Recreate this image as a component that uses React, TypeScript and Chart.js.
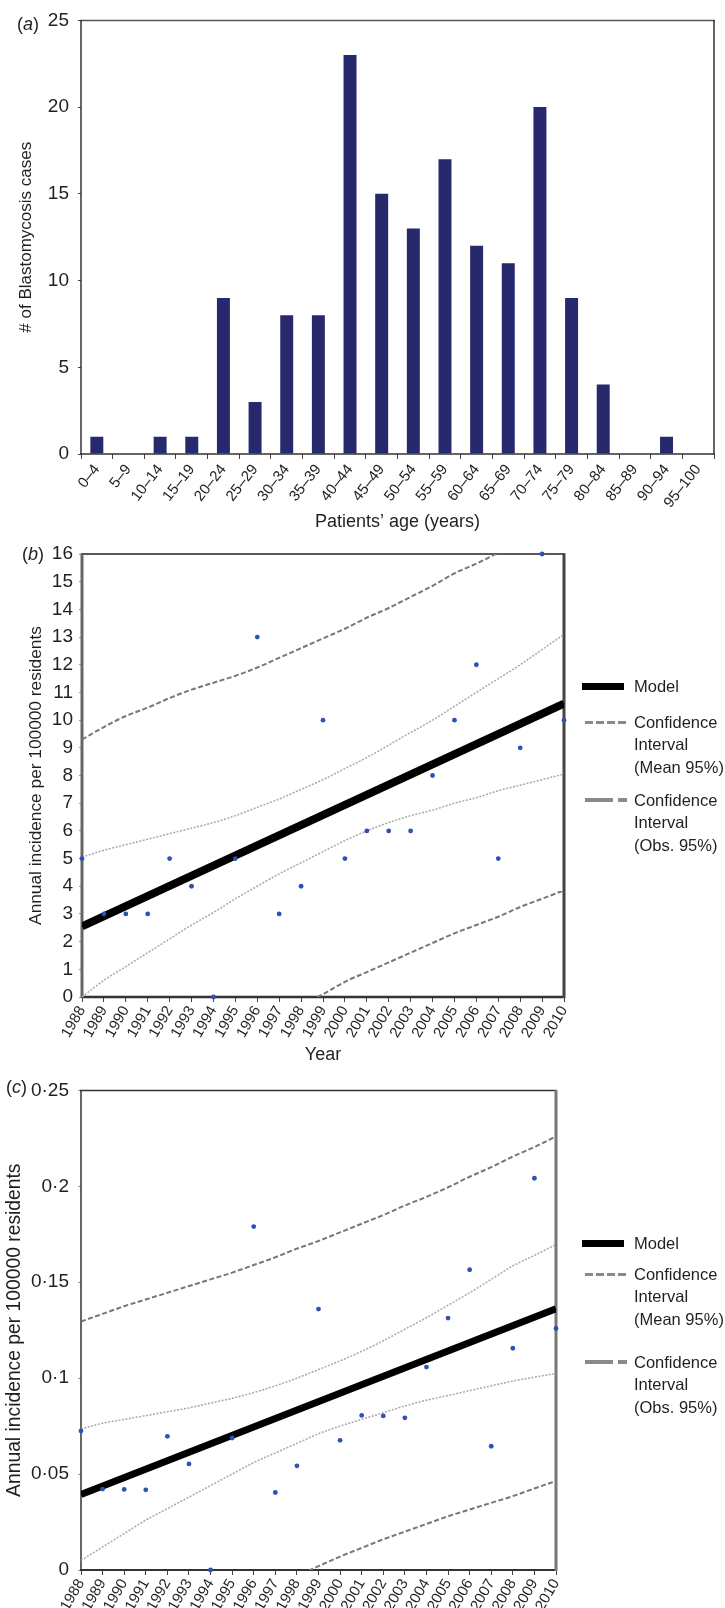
import React, { useEffect, useRef } from 'react';
import { Chart, registerables } from 'chart.js';

Chart.register(...registerables);

const FONT = '"Liberation Sans", Arial, Helvetica, sans-serif';
const NARROW = '"Liberation Sans Narrow", "Arial Narrow", "Liberation Sans", Arial, sans-serif';
const TEXT = '#231f20';

// ---------- Panel (a) ----------
const ageGroups = ['0–4', '5–9', '10–14', '15–19', '20–24', '25–29', '30–34', '35–39', '40–44', '45–49', '50–54', '55–59', '60–64', '65–69', '70–74', '75–79', '80–84', '85–89', '90–94', '95–100'];
const caseCounts = [1, 0, 1, 1, 9, 3, 8, 8, 23, 15, 13, 17, 12, 11, 20, 9, 4, 0, 1, 0];

// ---------- Panels (b) and (c) ----------
const years = [1988, 1989, 1990, 1991, 1992, 1993, 1994, 1995, 1996, 1997, 1998, 1999, 2000, 2001, 2002, 2003, 2004, 2005, 2006, 2007, 2008, 2009, 2010];
const modelYears = [1988, 2010];

const incidenceB = [5, 3, 3, 3, 5, 4, 0, 5, 13, 3, 4, 10, 5, 6, 6, 6, 8, 10, 12, 5, 9, 16, 10];
const modelB = [2.55, 10.6];
const meanUpperB = [5.05, 5.3, 5.5, 5.7, 5.9, 6.1, 6.3, 6.55, 6.85, 7.15, 7.5, 7.85, 8.25, 8.65, 9.1, 9.55, 10.0, 10.5, 11.0, 11.5, 12.0, 12.55, 13.1];
const meanLowerB = [0.0, 0.6, 1.1, 1.6, 2.1, 2.6, 3.05, 3.55, 4.0, 4.45, 4.85, 5.25, 5.65, 6.0, 6.3, 6.55, 6.75, 7.0, 7.2, 7.45, 7.65, 7.85, 8.05];
const obsUpperB = [9.3, 9.75, 10.15, 10.45, 10.8, 11.1, 11.35, 11.6, 11.9, 12.25, 12.6, 12.95, 13.3, 13.7, 14.05, 14.45, 14.85, 15.3, 15.65, 16.05, 16.5, 16.9, 17.35];
const obsLowerB = [-4.2, -3.8, -3.4, -3.05, -2.7, -2.4, -2.05, -1.65, -1.2, -0.75, -0.3, 0.1, 0.55, 0.9, 1.25, 1.6, 1.95, 2.3, 2.6, 2.9, 3.25, 3.55, 3.85];

const incidenceC = [0.0725, 0.0422, 0.042, 0.0418, 0.0697, 0.0553, 0, 0.0688, 0.179, 0.0404, 0.0543, 0.136, 0.0676, 0.0806, 0.0803, 0.0793, 0.1058, 0.1313, 0.1565, 0.0645, 0.1156, 0.2042, 0.1259];
const modelC = [0.0393, 0.1362];
const meanUpperC = [0.0735, 0.0765, 0.0785, 0.0805, 0.0825, 0.0845, 0.087, 0.0895, 0.0925, 0.096, 0.1, 0.1045, 0.109, 0.114, 0.1195, 0.1255, 0.1315, 0.138, 0.1445, 0.1515, 0.1585, 0.164, 0.1697];
const meanLowerC = [0.005, 0.012, 0.019, 0.026, 0.032, 0.038, 0.044, 0.05, 0.056, 0.061, 0.066, 0.071, 0.075, 0.0785, 0.082, 0.0855, 0.0885, 0.091, 0.0935, 0.096, 0.0985, 0.1005, 0.1025];
const obsUpperC = [0.1295, 0.1335, 0.1375, 0.141, 0.1445, 0.148, 0.1515, 0.155, 0.159, 0.163, 0.1675, 0.1715, 0.176, 0.1805, 0.185, 0.19, 0.1945, 0.1995, 0.205, 0.21, 0.2155, 0.2205, 0.226];
const obsLowerC = [-0.051, -0.046, -0.041, -0.036, -0.031, -0.026, -0.0215, -0.017, -0.0125, -0.0075, -0.003, 0.002, 0.007, 0.0115, 0.016, 0.02, 0.024, 0.028, 0.0315, 0.035, 0.0385, 0.0425, 0.0464];

const legendLabels = {
  model: 'Model',
  mean: ['Confidence', 'Interval', '(Mean 95%)'],
  obs: ['Confidence', 'Interval', '(Obs. 95%)'],
};

const pts = (xs: number[], ys: number[]) => xs.map((x, i) => ({ x, y: ys[i] }));

const framePlugin = {
  id: 'frame',
  beforeDatasetsDraw(chart: any, _args: any, opts: any) {
    const { ctx, chartArea } = chart;
    const { left, right, top, bottom } = chartArea;
    ctx.save();
    const line = (w: number, c: string, x1: number, y1: number, x2: number, y2: number) => {
      ctx.lineWidth = w;
      ctx.strokeStyle = c;
      ctx.beginPath();
      ctx.moveTo(x1, y1);
      ctx.lineTo(x2, y2);
      ctx.stroke();
    };
    line(opts.top[0], opts.top[1], left - 1, top, right + 1, top);
    line(opts.bottom[0], opts.bottom[1], left - 1, bottom, right + 1, bottom);
    line(opts.left[0], opts.left[1], left, top - 0.5, left, bottom + 1);
    line(opts.right[0], opts.right[1], right, top - 0.5, right, bottom + 1);
    ctx.restore();
  },
};

function ChartCanvas({ config, left, top, width, height }: any) {
  const ref = useRef<HTMLCanvasElement | null>(null);
  useEffect(() => {
    if (!ref.current) return;
    const chart = new Chart(ref.current, config);
    return () => chart.destroy();
  }, []);
  return (
    <canvas
      ref={ref}
      width={width}
      height={height}
      style={{ position: 'absolute', left, top, width, height, display: 'block' }}
    />
  );
}

const commonPlugins = {
  legend: { display: false },
  tooltip: { enabled: false },
};

const configA: any = {
  type: 'bar',
  data: {
    labels: ageGroups,
    datasets: [
      {
        data: caseCounts,
        backgroundColor: '#27296d',
        barPercentage: 0.41,
        categoryPercentage: 1,
      },
    ],
  },
  options: {
    responsive: false,
    animation: false,
    events: [],
    devicePixelRatio: 1,
    layout: { padding: { left: 0, right: 11, top: 19, bottom: 0 } },
    plugins: {
      ...commonPlugins,
      frame: { top: [1.5, '#555'], bottom: [1.5, '#333'], left: [1.5, '#333'], right: [1.5, '#333'] },
    },
    scales: {
      x: {
        afterFit: (s: any) => { s.height = 86; },
        ticks: { autoSkip: false, maxRotation: 52, minRotation: 52, padding: 2, color: TEXT, font: { family: NARROW, size: 15 } },
        grid: { drawOnChartArea: false, drawTicks: true, tickLength: 5, color: '#444', offset: true },
        border: { display: false },
        title: { display: true, text: 'Patients’ age (years)', color: TEXT, font: { family: NARROW, size: 18 }, padding: { top: 0, bottom: 7 } },
      },
      y: {
        min: 0,
        max: 25,
        afterFit: (s: any) => { s.width = 81; },
        ticks: { stepSize: 5, padding: 9, color: TEXT, font: { family: NARROW, size: 19 } },
        grid: { drawOnChartArea: false, drawTicks: true, tickLength: 3, color: '#444' },
        border: { display: false },
        title: { display: true, text: '# of Blastomycosis cases', color: TEXT, font: { family: FONT, size: 17 }, padding: { top: 16, bottom: 0 } },
      },
    },
  },
  plugins: [framePlugin],
};

function lineConfig(p: any): any {
  return {
    type: 'line',
    data: {
      datasets: [
        {
          data: pts(years, p.points),
          showLine: false,
          pointRadius: 2.4,
          pointBackgroundColor: '#2f50b4',
          pointBorderWidth: 0,
          clip: false,
        },
        {
          data: pts(modelYears, p.model),
          borderColor: '#000',
          borderWidth: p.modelWidth,
          pointRadius: 0,
        },
        {
          data: pts(years, p.meanUpper),
          borderColor: '#a8a8a8',
          borderWidth: 1.5,
          borderDash: [2, 1.5],
          pointRadius: 0,
          cubicInterpolationMode: 'monotone',
        },
        {
          data: pts(years, p.meanLower),
          borderColor: '#a8a8a8',
          borderWidth: 1.5,
          borderDash: [2, 1.5],
          pointRadius: 0,
          cubicInterpolationMode: 'monotone',
        },
        {
          data: pts(years, p.obsUpper),
          borderColor: '#777',
          borderWidth: 2,
          borderDash: [5, 2.5],
          pointRadius: 0,
          cubicInterpolationMode: 'monotone',
        },
        {
          data: pts(years, p.obsLower),
          borderColor: '#777',
          borderWidth: 2,
          borderDash: [5, 2.5],
          pointRadius: 0,
          cubicInterpolationMode: 'monotone',
        },
      ],
    },
    options: {
      responsive: false,
      animation: false,
      events: [],
      devicePixelRatio: 1,
      layout: { padding: p.padding },
      plugins: { ...commonPlugins, frame: p.frame },
      scales: {
        x: {
          type: 'linear',
          min: 1988,
          max: 2010,
          afterFit: (s: any) => { s.height = p.xHeight; },
          ticks: {
            stepSize: 1,
            autoSkip: false,
            maxRotation: 60,
            minRotation: 60,
            padding: 1,
            color: TEXT,
            font: { family: NARROW, size: 15 },
            callback: (v: any) => String(v),
          },
          grid: { drawOnChartArea: false, drawTicks: true, tickLength: 5, color: '#444' },
          border: { display: false },
          title: p.xTitle
            ? { display: true, text: p.xTitle, color: TEXT, font: { family: NARROW, size: 18 }, padding: { top: 0, bottom: 4 } }
            : { display: false },
        },
        y: {
          min: 0,
          max: p.yMax,
          afterFit: (s: any) => { s.width = p.yWidth; },
          ticks: {
            stepSize: p.yStep,
            padding: p.yTickPad,
            color: TEXT,
            font: { family: NARROW, size: 19 },
            callback: p.yFormat,
          },
          grid: { drawOnChartArea: false, drawTicks: true, tickLength: 3, color: '#999' },
          border: { display: false },
          title: {
            display: true,
            text: 'Annual incidence per 100000 residents',
            color: TEXT,
            font: { family: FONT, size: p.yTitleSize },
            padding: { top: p.yTitlePad, bottom: 0 },
          },
        },
      },
    },
    plugins: [framePlugin],
  };
}

const configB = lineConfig({
  points: incidenceB,
  model: modelB,
  modelWidth: 8,
  meanUpper: meanUpperB,
  meanLower: meanLowerB,
  obsUpper: obsUpperB,
  obsLower: obsLowerB,
  padding: { left: 0, right: 161, top: 24, bottom: 0 },
  frame: { top: [1.5, '#222'], bottom: [2.5, '#333'], left: [3, '#666'], right: [3, '#444'] },
  xHeight: 73,
  xTitle: 'Year',
  yMax: 16,
  yStep: 1,
  yWidth: 82,
  yTickPad: 6,
  yTitleSize: 17.3,
  yTitlePad: 25.5,
  yFormat: (v: any) => String(v),
});

const configC = lineConfig({
  points: incidenceC,
  model: modelC,
  modelWidth: 7,
  meanUpper: meanUpperC,
  meanLower: meanLowerC,
  obsUpper: obsUpperC,
  obsLower: obsLowerC,
  padding: { left: 0, right: 169, top: 17, bottom: 0 },
  frame: { top: [1.5, '#333'], bottom: [2, '#333'], left: [1.5, '#333'], right: [3, '#777'] },
  xHeight: 38,
  xTitle: null,
  yMax: 0.25,
  yStep: 0.05,
  yWidth: 81,
  yTickPad: 9,
  yTitleSize: 19.3,
  yTitlePad: 3,
  yFormat: (v: any) => (v === 0 ? '0' : Number(v).toFixed(2).replace(/0+$/, '').replace('.', '·')),
});

const textStyle: any = {
  position: 'absolute',
  fontFamily: NARROW,
  fontSize: 16.5,
  color: TEXT,
  lineHeight: '22.5px',
  whiteSpace: 'nowrap',
};

function Legend({ modelY, meanY, obsY }: { modelY: number; meanY: number; obsY: number }) {
  const x0 = 583;
  const tx = 634;
  return (
    <>
      <div style={{ position: 'absolute', left: x0 - 1, top: modelY - 3.5, width: 42, height: 7, background: '#000' }} />
      <div style={{ ...textStyle, left: tx, top: modelY - 11.25 }}>{legendLabels.model}</div>
      <div
        style={{
          position: 'absolute',
          left: x0 + 2,
          top: meanY - 1.5,
          width: 42,
          height: 3,
          background: 'repeating-linear-gradient(90deg, #8a8a8a 0px, #8a8a8a 8px, transparent 8px, transparent 11px)',
        }}
      />
      <div style={{ ...textStyle, left: tx, top: meanY - 11.25 }}>
        {legendLabels.mean.map((t) => (
          <div key={t}>{t}</div>
        ))}
      </div>
      <div style={{ position: 'absolute', left: x0 + 2, top: obsY - 2, width: 28, height: 4, background: '#8a8a8a' }} />
      <div style={{ position: 'absolute', left: x0 + 35, top: obsY - 2, width: 9, height: 4, background: '#8a8a8a' }} />
      <div style={{ ...textStyle, left: tx, top: obsY - 11.25 }}>
        {legendLabels.obs.map((t) => (
          <div key={t}>{t}</div>
        ))}
      </div>
    </>
  );
}

function PanelLabel({ letter, left, top }: { letter: string; left: number; top: number }) {
  return (
    <div style={{ ...textStyle, fontSize: 18, left, top: top - 11.25 }}>
      (<i>{letter}</i>)
    </div>
  );
}

export default function App() {
  return (
    <div style={{ position: 'absolute', left: 0, top: 0, width: 725, height: 1608, overflow: 'hidden', background: '#fff' }}>
      <ChartCanvas config={configA} left={0} top={0} width={725} height={540} />
      <ChartCanvas config={configB} left={0} top={530} width={725} height={540} />
      <ChartCanvas config={configC} left={0} top={1070} width={725} height={538} />
      <PanelLabel letter="a" left={17} top={24} />
      <PanelLabel letter="b" left={22} top={554} />
      <PanelLabel letter="c" left={6} top={1087} />
      <Legend modelY={686} meanY={722} obsY={800} />
      <Legend modelY={1243} meanY={1274} obsY={1362} />
    </div>
  );
}
